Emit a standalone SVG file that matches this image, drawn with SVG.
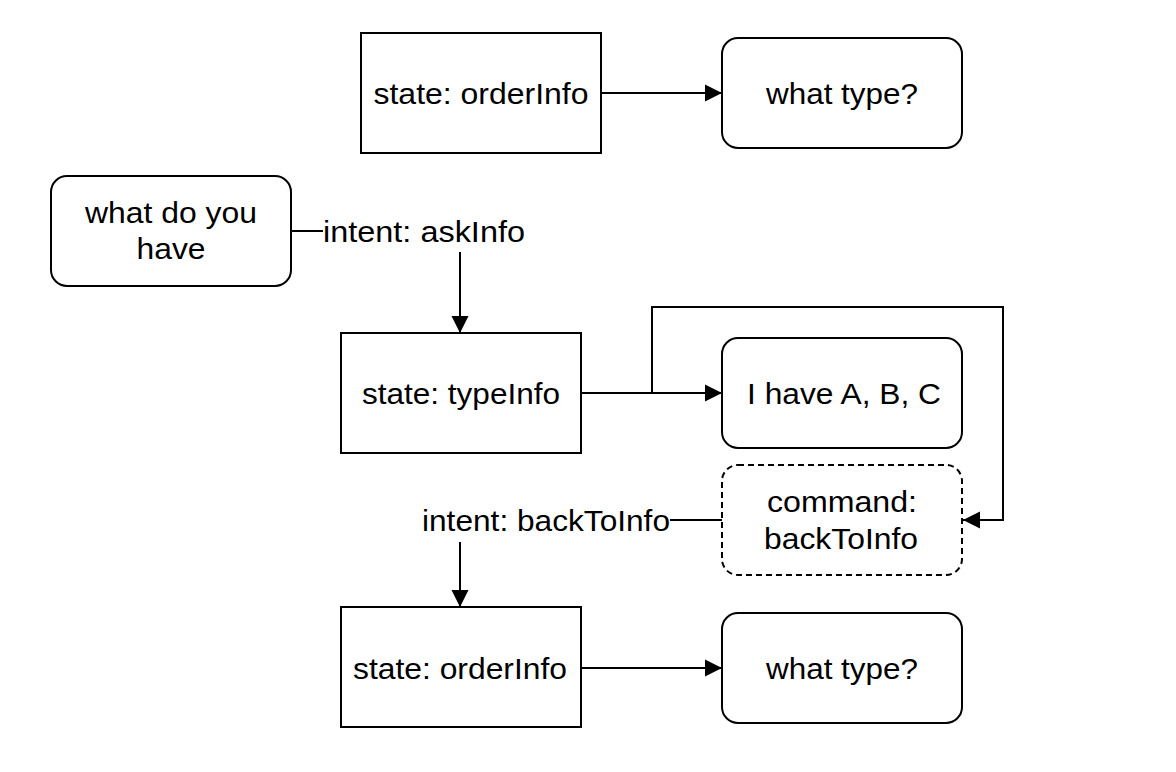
<svg xmlns="http://www.w3.org/2000/svg" width="1176" height="772" viewBox="0 0 1176 772">
  <style>
    .box { fill: #ffffff; stroke: #000000; stroke-width: 2; }
    .dash { stroke-dasharray: 6 4; }
    .lbl { font-family: "Liberation Sans", Arial, Helvetica, sans-serif; font-size: 30px; fill: #000000; text-anchor: middle; }
    .edge { fill: none; stroke: #000000; stroke-width: 2; }
  </style>
  <defs>
    <marker id="arrow" markerUnits="userSpaceOnUse" markerWidth="17" markerHeight="18" refX="17" refY="9" orient="auto">
      <path d="M0,0.5 L17,9 L0,17.5 Z" fill="#000000"/>
    </marker>
  </defs>
  <rect width="1176" height="772" fill="#ffffff"/>

  <g id="edges">
    <line class="edge" x1="601" y1="93" x2="722" y2="93" marker-end="url(#arrow)"/>
    <line class="edge" x1="291" y1="231" x2="323" y2="231"/>
    <line class="edge" x1="460" y1="252" x2="460" y2="333" marker-end="url(#arrow)"/>
    <line class="edge" x1="581" y1="393" x2="722" y2="393" marker-end="url(#arrow)"/>
    <polyline class="edge" points="652,393 652,307 1003,307 1003,520 963,520" marker-end="url(#arrow)"/>
    <line class="edge" x1="722" y1="520" x2="670" y2="520"/>
    <line class="edge" x1="460" y1="542" x2="460" y2="607" marker-end="url(#arrow)"/>
    <line class="edge" x1="581" y1="668" x2="722" y2="668" marker-end="url(#arrow)"/>
    <text class="lbl" x="424" y="242" textLength="202" lengthAdjust="spacingAndGlyphs">intent: askInfo</text>
    <text class="lbl" x="546" y="531" textLength="248" lengthAdjust="spacingAndGlyphs">intent: backToInfo</text>
  </g>

  <g id="state-orderInfo-top">
    <rect class="box" x="361" y="33" width="240" height="120"/>
    <text class="lbl" x="481" y="104" textLength="215" lengthAdjust="spacingAndGlyphs">state: orderInfo</text>
  </g>
  <g id="what-type-top">
    <rect class="box" x="722" y="38" width="240" height="110" rx="16" ry="16"/>
    <text class="lbl" x="842" y="104" textLength="152" lengthAdjust="spacingAndGlyphs">what type?</text>
  </g>
  <g id="what-do-you-have">
    <rect class="box" x="51" y="176" width="240" height="110" rx="16" ry="16"/>
    <text class="lbl" x="171" y="223" textLength="172" lengthAdjust="spacingAndGlyphs">what do you</text>
    <text class="lbl" x="171" y="259" textLength="69" lengthAdjust="spacingAndGlyphs">have</text>
  </g>
  <g id="state-typeInfo">
    <rect class="box" x="341" y="333" width="240" height="120"/>
    <text class="lbl" x="461" y="404" textLength="198" lengthAdjust="spacingAndGlyphs">state: typeInfo</text>
  </g>
  <g id="i-have-abc">
    <rect class="box" x="722" y="338" width="240" height="110" rx="16" ry="16"/>
    <text class="lbl" x="844" y="404" textLength="194" lengthAdjust="spacingAndGlyphs">I have A, B, C</text>
  </g>
  <g id="command-backToInfo">
    <rect class="box dash" x="722" y="465" width="240" height="110" rx="16" ry="16"/>
    <text class="lbl" x="842" y="512" textLength="150" lengthAdjust="spacingAndGlyphs">command:</text>
    <text class="lbl" x="841" y="549" textLength="154" lengthAdjust="spacingAndGlyphs">backToInfo</text>
  </g>
  <g id="state-orderInfo-bottom">
    <rect class="box" x="341" y="607" width="240" height="120"/>
    <text class="lbl" x="460" y="679" textLength="214" lengthAdjust="spacingAndGlyphs">state: orderInfo</text>
  </g>
  <g id="what-type-bottom">
    <rect class="box" x="722" y="613" width="240" height="110" rx="16" ry="16"/>
    <text class="lbl" x="842" y="679" textLength="152" lengthAdjust="spacingAndGlyphs">what type?</text>
  </g>
</svg>
